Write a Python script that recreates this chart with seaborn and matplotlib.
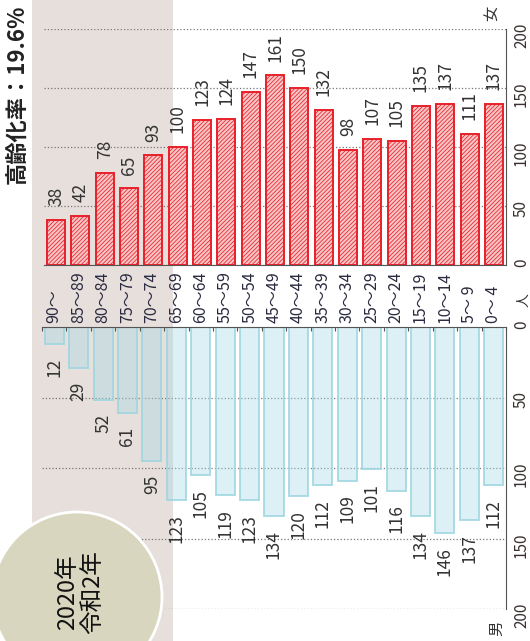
import numpy as np
import matplotlib
matplotlib.use("Agg")
import matplotlib.pyplot as plt
from matplotlib.patches import Rectangle, Circle
import seaborn as sns

# =========================
# DATA  (2020 population pyramid, rotated)
# =========================

ages = ["90～", "85～89", "80～84", "75～79", "70～74", "65～69", "60～64",
        "55～59", "50～54", "45～49", "40～44", "35～39", "30～34", "25～29",
        "20～24", "15～19", "10～14", "5～ 9", "0～ 4"]
female = [38, 42, 78, 65, 93, 100, 123, 124, 147, 161, 150, 132, 98, 107,
          105, 135, 137, 111, 137]
male = [12, 29, 52, 61, 95, 123, 105, 119, 123, 134, 120, 112, 109, 101,
        116, 134, 146, 137, 112]
yticks = [0, 50, 100, 150, 200]

sns.set_style("white")
plt.rcParams["font.family"] = ["Liberation Sans Narrow", "Noto Sans CJK JP", "DejaVu Sans"]
plt.rcParams["hatch.linewidth"] = 0.55

W, H = 530, 641
fig = plt.figure(figsize=(W / 100, H / 100), dpi=100)

# beige band behind the 65+ groups
fig.patches.append(Rectangle((32 / W, 0), 141 / W, 1, transform=fig.transFigure,
                             facecolor="#e6dfdb", edgecolor="none", zorder=-1))

ax_f = fig.add_axes([44 / W, 1 - 265 / H, 462 / W, 235.5 / H])
ax_m = fig.add_axes([42 / W, 1 - 609 / H, 464 / W, 282 / H])

# =========================
# FEMALE (top)
# =========================

sns.barplot(x=ages, y=female, ax=ax_f, width=0.74, facecolor="#f9c4c4",
            edgecolor="#e8202a", linewidth=1.4, hatch="////////")
ax_f.set_ylim(0, 200)

for i, v in enumerate(female):
    ax_f.annotate(str(v), (i, v), xytext=(0, 10), textcoords="offset points",
                  rotation=90, ha="center", va="bottom", fontsize=12.5, color="#333333")

# =========================
# MALE (bottom)
# =========================

sns.barplot(x=ages, y=male, ax=ax_m, width=0.78, facecolor=(0.66, 0.86, 0.9, 0.4),
            edgecolor=(0.62, 0.84, 0.88, 0.85), linewidth=1.4)
ax_m.set_ylim(200, 0)

for i, v in enumerate(male):
    ax_m.annotate(str(v), (i, v), xytext=(0, -10), textcoords="offset points",
                  rotation=90, ha="center", va="top", fontsize=12.5, color="#333333")

# =========================
# AXES STYLE
# =========================

for ax in (ax_f, ax_m):
    ax.set_facecolor("none")
    ax.set_xlim(-0.5, len(ages) - 0.5)
    ax.set_yticks(yticks)
    ax.grid(axis="y", linestyle=":", color="#777777", linewidth=0.9)
    ax.set_axisbelow(True)
    ax.yaxis.tick_right()
    ax.tick_params(axis="y", length=0, pad=5, labelrotation=90,
                   labelsize=11, labelcolor="#3a3030")
    ax.set_xticks(np.arange(-0.5, len(ages), 1), minor=True)
    ax.tick_params(axis="x", which="minor", length=3, direction="in",
                   color="#555555", width=0.8)
    ax.set_xlabel("")
    ax.set_ylabel("")
    ax.spines["left"].set_visible(False)
    ax.spines["right"].set_color("#555555")

ax_f.spines["top"].set_visible(False)
ax_f.spines["bottom"].set_color("#555555")
ax_f.tick_params(axis="x", which="major", length=0, labelbottom=False)

ax_m.spines["bottom"].set_visible(False)
ax_m.spines["top"].set_color("#555555")
ax_m.xaxis.tick_top()
ax_m.tick_params(axis="x", which="minor", top=True, bottom=False)
ax_m.tick_params(axis="x", which="major", length=0, pad=3, labelrotation=90,
                 labelsize=11.5, labelcolor="#2a2a40")
ax_m.set_xticks(range(len(ages)))
ax_m.set_xticklabels(ages)

# =========================
# TEXTS
# =========================

fig.text(18 / W, 1 - 5 / H, "高齢化率：19.6%", rotation=90, ha="center", va="top",
         fontsize=16, fontweight="bold", family=["Noto Sans CJK JP", "DejaVu Sans"],
         color="#222222")
fig.text(492 / W, 1 - 13 / H, "女", rotation=90, ha="center", va="center",
         fontsize=11, family=["Noto Sans CJK JP"], color="#333333")
fig.text(497 / W, 1 - 628 / H, "男", rotation=90, ha="center", va="center",
         fontsize=11, family=["Noto Sans CJK JP"], color="#333333")
fig.text(523 / W, 1 - 300 / H, "人", rotation=90, ha="center", va="center",
         fontsize=10, family=["Noto Sans CJK JP"], color="#333333")

# year badge
fig.patches.append(Circle((0.77, 0.44), 0.85, transform=fig.dpi_scale_trans,
                          facecolor="#d9d6c0", edgecolor="white", linewidth=2, zorder=5))
fig.text(80 / W, 1 - 592 / H, "2020年\n令和2年", rotation=90, ha="center", va="center",
         fontsize=17, linespacing=1.1, family=["Noto Sans CJK JP", "DejaVu Sans"],
         color="#111111", zorder=6)

fig.savefig("out.png", dpi=100)
